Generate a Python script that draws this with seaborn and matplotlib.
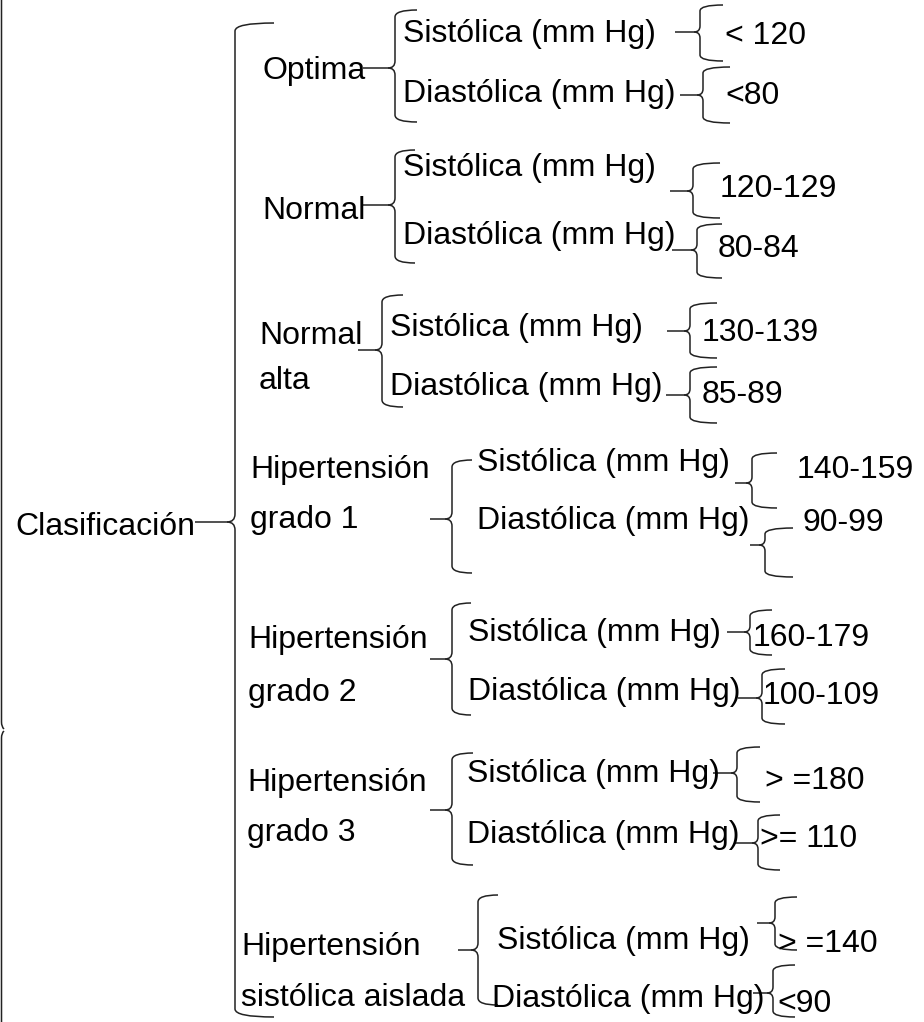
import matplotlib
matplotlib.use("Agg")
import matplotlib.pyplot as plt
from matplotlib.path import Path
from matplotlib.patches import PathPatch
import seaborn as sns

# ---------------- data ----------------
root = "Clasificación"
categories = ["Optima", "Normal", "Normal\nalta", "Hipertensión\ngrado 1",
              "Hipertensión\ngrado 2", "Hipertensión\ngrado 3",
              "Hipertensión\nsistólica aislada"]
sub_labels = ["Sistólica (mm Hg)", "Diastólica (mm Hg)"]
sistolica = ["< 120", "120-129", "130-139", "140-159", "160-179", "> =180", "> =140"]
diastolica = ["<80", "80-84", "85-89", "90-99", "100-109", ">= 110", "<90"]

# ---------------- layout (pixels) ----------------
# category: label x, label baselines, tip start x, brace x, top, bottom, tip y, arm end x
cat_layout = [
    (262, [79], 363, 395, 10, 122, 68, 417),
    (262, [219], 362, 395, 150, 263, 205, 415),
    (259, [344, 389], 358, 382, 295, 407, 350, 403),
    (250, [478, 528], 430, 452, 460, 573, 519, 472),
    (248, [648, 701], 430, 452, 603, 715, 659, 471),
    (247, [791, 841], 430, 452, 753, 865, 810, 473),
    (241, [955, 1006], 458, 478, 895, 1005, 950, 498),
]
# sub label positions: (sis x, sis baseline, dia x, dia baseline)
sub_layout = [
    (403, 42, 403, 102),
    (403, 176, 403, 244),
    (390, 336, 390, 395),
    (477, 471, 477, 529),
    (468, 641, 468, 700),
    (467, 782, 467, 843),
    (497, 949, 492, 1007),
]
# value braces: tip start x, brace x, top, bottom, tip y, arm end x, value x, value baseline
sis_layout = [
    (675, 700, 5, 61, 32, 723, 725, 44),
    (670, 693, 163, 218, 191, 720, 720, 197),
    (667, 690, 303, 358, 331, 717, 702, 341),
    (735, 752, 453, 508, 483, 777, 797, 478),
    (727, 750, 610, 655, 632, 772, 753, 646),
    (713, 737, 747, 802, 773, 760, 765, 789),
    (757, 775, 897, 950, 923, 797, 778, 952),
]
dia_layout = [
    (680, 703, 67, 123, 95, 730, 725, 104),
    (672, 697, 224, 278, 250, 722, 718, 257),
    (666, 690, 367, 423, 395, 717, 702, 403),
    (750, 765, 528, 577, 545, 793, 802, 531),
    (738, 762, 669, 724, 698, 785, 763, 704),
    (735, 758, 815, 870, 843, 780, 760, 847),
    (753, 773, 965, 1017, 993, 795, 777, 1012),
]

sns.set_theme(style="white")
plt.rcParams["font.family"] = ["Liberation Sans", "DejaVu Sans"]

W, H = 924, 1022
fig = plt.figure(figsize=(W / 100, H / 100), dpi=100)
ax = fig.add_axes([0, 0, 1, 1])
ax.set_xlim(0, W)
ax.set_ylim(H, 0)
ax.axis("off")

LC = "#222222"
LW = 1.1
FS = 23


def brace(x, top, bot, tipy, tipx0, armend, r=7):
    verts = [
        (armend, top), (x, top), (x, top + r),
        (x, tipy - r),
        (x, tipy), (x - r, tipy),
    ]
    codes = [Path.MOVETO, Path.CURVE3, Path.CURVE3, Path.LINETO,
             Path.CURVE3, Path.CURVE3]
    ax.add_patch(PathPatch(Path(verts, codes), fill=False, ec=LC, lw=LW))
    verts2 = [
        (x - r, tipy), (x, tipy), (x, tipy + r),
        (x, bot - r),
        (x, bot), (armend, bot),
    ]
    ax.add_patch(PathPatch(Path(verts2, codes), fill=False, ec=LC, lw=LW))
    ax.plot([tipx0, x - r], [tipy, tipy], color=LC, lw=LW, solid_capstyle="butt")


def txt(x, y, s):
    ax.text(x, y, s, fontsize=FS, ha="left", va="baseline", color="black")


# left edge (cropped outer brace)
edge = [(1.5, 0), (1.5, 722), (1.5, 727), (4, 729)]
ax.add_patch(PathPatch(Path(edge, [Path.MOVETO, Path.LINETO, Path.CURVE3, Path.CURVE3]),
                       fill=False, ec=LC, lw=LW))
edge2 = [(4, 731), (1.5, 733), (1.5, 738), (1.5, H)]
ax.add_patch(PathPatch(Path(edge2, [Path.MOVETO, Path.CURVE3, Path.CURVE3, Path.LINETO]),
                       fill=False, ec=LC, lw=LW))

# root
txt(15, 535, root)
brace(235, 23, 1017, 522, 195, 274, r=8)

for i, cat in enumerate(categories):
    lx, lbs, tx0, bx, top, bot, ty, arm = cat_layout[i]
    for line, b in zip(cat.split("\n"), lbs):
        txt(lx, b, line)
    brace(bx, top, bot, ty, tx0, arm)

    sx, sb, dx, db = sub_layout[i]
    txt(sx, sb, sub_labels[0])
    txt(dx, db, sub_labels[1])

    for lay, val in ((sis_layout[i], sistolica[i]), (dia_layout[i], diastolica[i])):
        t0, vbx, vt, vbm, vty, varm, vx, vb = lay
        brace(vbx, vt, vbm, vty, t0, varm, r=6)
        txt(vx, vb, val)

fig.savefig("out.png", dpi=100, facecolor="white")
